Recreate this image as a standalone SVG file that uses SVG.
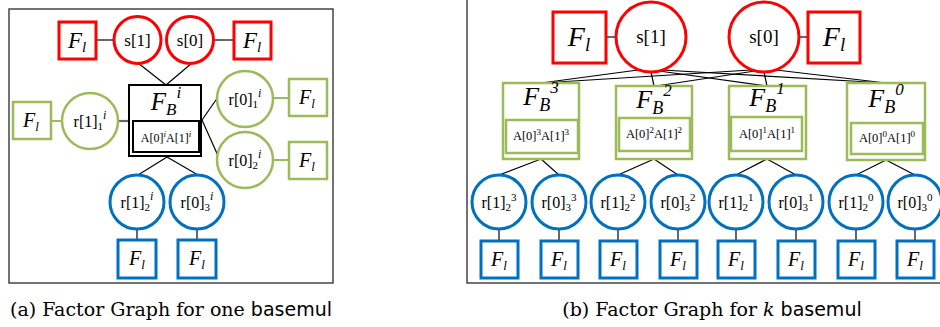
<svg xmlns="http://www.w3.org/2000/svg" width="940" height="327" viewBox="0 0 940 327" font-family="'Liberation Serif', 'Times New Roman', serif">
<style>
  .red{fill:#fff;stroke:#FF0000;stroke-width:3}
  .grn{fill:#fff;stroke:#9BBB59;stroke-width:2.5}
  .blu{fill:#fff;stroke:#0070C0;stroke-width:3}
  .fb{fill:#fff;stroke:#000;stroke-width:2}
  .edge{stroke:#000;stroke-width:1.2;fill:none}
  .gedge{stroke:#9BBB59;stroke-width:2;fill:none}
  .frame{stroke:#444;stroke-width:1.5;fill:none}
  text{font-family:'Liberation Serif', 'Times New Roman', serif;fill:#000;text-anchor:middle}
  .it{font-style:italic}
  text.cap{font-family:'DejaVu Serif', serif;font-size:19px}
  tspan.sans{font-family:'DejaVu Sans', sans-serif}
</style>

<!-- panel frames -->
<rect class="frame" x="9" y="9" width="324" height="274"/>
<path class="frame" d="M467,0 V283 H940"/>

<!-- ===== (a) one basemul ===== -->
<g id="edges-a">
  <line class="edge" x1="96" y1="40" x2="114" y2="40"/>
  <line class="edge" x1="213" y1="40" x2="234" y2="40"/>
  <line class="edge" x1="138" y1="63" x2="166" y2="85"/>
  <line class="edge" x1="192" y1="63" x2="166" y2="85"/>
  <line class="gedge" x1="51" y1="121" x2="62" y2="121"/>
  <line stroke="#666" stroke-width="2.2" x1="118" y1="121" x2="129" y2="121"/>
  <line class="edge" x1="202" y1="120" x2="218" y2="97"/>
  <line class="edge" x1="202" y1="120" x2="219" y2="158"/>
  <line class="gedge" x1="273" y1="98" x2="289" y2="98"/>
  <line class="gedge" x1="273" y1="160" x2="289" y2="160"/>
  <line class="edge" x1="167" y1="157" x2="138" y2="175"/>
  <line class="edge" x1="167" y1="157" x2="198" y2="175"/>
  <line class="edge" x1="137" y1="229" x2="137" y2="240"/>
  <line class="edge" x1="197" y1="229" x2="197" y2="240"/>
</g>

<g id="a-fl-s1"><rect class="red" x="59" y="22" width="37" height="37"/>
  <text class="it" x="77" y="48" font-size="23">F<tspan font-size="15" dy="4">l</tspan></text></g>
<g id="a-s1"><circle class="red" cx="137.5" cy="40" r="23.5"/>
  <text x="137.5" y="46" font-size="17">s[1]</text></g>
<g id="a-s0"><circle class="red" cx="190" cy="40" r="23.5"/>
  <text x="190" y="46" font-size="17">s[0]</text></g>
<g id="a-fl-s0"><rect class="red" x="234" y="22" width="37" height="37"/>
  <text class="it" x="252" y="48" font-size="23">F<tspan font-size="15" dy="4">l</tspan></text></g>

<g id="a-fb"><rect class="fb" x="129" y="85" width="72" height="71"/>
  <rect class="fb" x="133" y="121" width="66" height="31"/>
  <text class="it" x="166" y="110" font-size="25">F<tspan font-size="17" dy="5">B</tspan><tspan font-size="17" dy="-17">i</tspan></text>
  <text x="166" y="142" font-size="12">A[0]<tspan class="it" font-size="9" dy="-5">i</tspan><tspan dy="5">A[1]</tspan><tspan class="it" font-size="9" dy="-5">i</tspan></text></g>

<g id="a-fl-r11"><rect class="grn" x="13" y="102" width="38" height="37"/>
  <text class="it" x="31" y="127" font-size="20">F<tspan font-size="13" dy="4">l</tspan></text></g>
<g id="a-r11"><circle class="grn" cx="90" cy="121" r="28"/>
  <text x="90" y="127" font-size="16">r[1]<tspan font-size="11" dy="3">1</tspan><tspan class="it" font-size="12" dy="-11">i</tspan></text></g>
<g id="a-r01"><circle class="grn" cx="245" cy="99" r="28"/>
  <text x="245" y="105" font-size="16">r[0]<tspan font-size="11" dy="3">1</tspan><tspan class="it" font-size="12" dy="-11">i</tspan></text></g>
<g id="a-r02"><circle class="grn" cx="245" cy="160" r="28"/>
  <text x="245" y="166" font-size="16">r[0]<tspan font-size="11" dy="3">2</tspan><tspan class="it" font-size="12" dy="-11">i</tspan></text></g>
<g id="a-fl-r01"><rect class="grn" x="289" y="79" width="38" height="37"/>
  <text class="it" x="307" y="104" font-size="20">F<tspan font-size="13" dy="4">l</tspan></text></g>
<g id="a-fl-r02"><rect class="grn" x="289" y="142" width="38" height="37"/>
  <text class="it" x="307" y="167" font-size="20">F<tspan font-size="13" dy="4">l</tspan></text></g>

<g id="a-r12"><circle class="blu" cx="137" cy="202" r="27"/>
  <text x="137" y="208" font-size="16">r[1]<tspan font-size="11" dy="3">2</tspan><tspan class="it" font-size="12" dy="-11">i</tspan></text></g>
<g id="a-r03"><circle class="blu" cx="197" cy="202" r="27"/>
  <text x="197" y="208" font-size="16">r[0]<tspan font-size="11" dy="3">3</tspan><tspan class="it" font-size="12" dy="-11">i</tspan></text></g>
<g id="a-fl-r12"><rect class="blu" x="118" y="240" width="38" height="38"/>
  <text class="it" x="137" y="265" font-size="20">F<tspan font-size="13" dy="4">l</tspan></text></g>
<g id="a-fl-r03"><rect class="blu" x="178" y="240" width="38" height="38"/>
  <text class="it" x="197" y="265" font-size="20">F<tspan font-size="13" dy="4">l</tspan></text></g>

<!-- ===== (b) k basemul ===== -->
<g id="edges-b">
  <line class="edge" x1="606" y1="37" x2="616" y2="37"/>
  <line class="edge" x1="799" y1="37" x2="808" y2="37"/>
  <!-- s[1] to every F_B -->
  <line class="edge" x1="638" y1="70" x2="541" y2="83"/>
  <line class="edge" x1="651" y1="72" x2="654" y2="86"/>
  <line class="edge" x1="659" y1="71" x2="767" y2="86"/>
  <line class="edge" x1="662" y1="70" x2="886" y2="83"/>
  <!-- s[0] to every F_B -->
  <line class="edge" x1="751" y1="70" x2="541" y2="83"/>
  <line class="edge" x1="755" y1="71" x2="656" y2="86"/>
  <line class="edge" x1="764" y1="72" x2="767" y2="86"/>
  <line class="edge" x1="776" y1="70" x2="886" y2="83"/>
  <!-- F_B to r nodes -->
  <line class="edge" x1="541" y1="159" x2="499" y2="175"/>
  <line class="edge" x1="541" y1="159" x2="559" y2="175"/>
  <line class="edge" x1="654" y1="159" x2="618" y2="175"/>
  <line class="edge" x1="654" y1="159" x2="678" y2="175"/>
  <line class="edge" x1="767" y1="159" x2="736" y2="175"/>
  <line class="edge" x1="767" y1="159" x2="796" y2="175"/>
  <line class="edge" x1="886" y1="160" x2="856" y2="175"/>
  <line class="edge" x1="886" y1="160" x2="915" y2="175"/>
  <!-- r nodes to F_l -->
  <line class="edge" x1="499" y1="229" x2="499" y2="241"/>
  <line class="edge" x1="559" y1="229" x2="559" y2="241"/>
  <line class="edge" x1="618" y1="229" x2="618" y2="241"/>
  <line class="edge" x1="678" y1="229" x2="678" y2="241"/>
  <line class="edge" x1="736" y1="229" x2="736" y2="241"/>
  <line class="edge" x1="796" y1="229" x2="796" y2="241"/>
  <line class="edge" x1="856" y1="229" x2="856" y2="241"/>
  <line class="edge" x1="915" y1="229" x2="915" y2="241"/>
</g>

<g id="b-fl-s1"><rect class="red" x="553" y="12" width="53" height="51"/>
  <text class="it" x="579" y="46" font-size="28">F<tspan font-size="19" dy="5">l</tspan></text></g>
<g id="b-s1"><circle class="red" cx="651" cy="37" r="35"/>
  <text x="651" y="43" font-size="19">s[1]</text></g>
<g id="b-s0"><circle class="red" cx="764" cy="37" r="35"/>
  <text x="764" y="43" font-size="19">s[0]</text></g>
<g id="b-fl-s0"><rect class="red" x="808" y="12" width="52" height="51"/>
  <text class="it" x="834" y="46" font-size="28">F<tspan font-size="19" dy="5">l</tspan></text></g>

<g id="b-fb3"><rect class="grn" x="503" y="83" width="76" height="76"/>
  <rect class="grn" x="506" y="120" width="72" height="33"/>
  <text class="it" x="541" y="105" font-size="26">F<tspan font-size="18" dy="6">B</tspan><tspan font-size="17" dy="-18">3</tspan></text>
  <text x="541" y="140" font-size="12.5">A[0]<tspan font-size="9" dy="-5">3</tspan><tspan dy="5">A[1]</tspan><tspan font-size="9" dy="-5">3</tspan></text></g>
<g id="b-fb2"><rect class="grn" x="616" y="86" width="76" height="73"/>
  <rect class="grn" x="619" y="118" width="71" height="33"/>
  <text class="it" x="654" y="108" font-size="26">F<tspan font-size="18" dy="6">B</tspan><tspan font-size="17" dy="-18">2</tspan></text>
  <text x="654" y="138" font-size="12.5">A[0]<tspan font-size="9" dy="-5">2</tspan><tspan dy="5">A[1]</tspan><tspan font-size="9" dy="-5">2</tspan></text></g>
<g id="b-fb1"><rect class="grn" x="729" y="86" width="77" height="73"/>
  <rect class="grn" x="731" y="117" width="71" height="34"/>
  <text class="it" x="767" y="106" font-size="26">F<tspan font-size="18" dy="6">B</tspan><tspan font-size="17" dy="-18">1</tspan></text>
  <text x="767" y="138" font-size="12.5">A[0]<tspan font-size="9" dy="-5">1</tspan><tspan dy="5">A[1]</tspan><tspan font-size="9" dy="-5">1</tspan></text></g>
<g id="b-fb0"><rect class="grn" x="847" y="83" width="78" height="77"/>
  <rect class="grn" x="851" y="123" width="72" height="31"/>
  <text class="it" x="886" y="107" font-size="26">F<tspan font-size="18" dy="6">B</tspan><tspan font-size="17" dy="-18">0</tspan></text>
  <text x="887" y="142" font-size="12.5">A[0]<tspan font-size="9" dy="-5">0</tspan><tspan dy="5">A[1]</tspan><tspan font-size="9" dy="-5">0</tspan></text></g>

<g id="b-r12-3"><circle class="blu" cx="499" cy="202" r="27"/>
  <text x="499" y="208" font-size="16">r[1]<tspan font-size="11" dy="3">2</tspan><tspan font-size="11" dy="-10">3</tspan></text></g>
<g id="b-r03-3"><circle class="blu" cx="559" cy="202" r="27"/>
  <text x="559" y="208" font-size="16">r[0]<tspan font-size="11" dy="3">3</tspan><tspan font-size="11" dy="-10">3</tspan></text></g>
<g id="b-r12-2"><circle class="blu" cx="618" cy="202" r="27"/>
  <text x="618" y="208" font-size="16">r[1]<tspan font-size="11" dy="3">2</tspan><tspan font-size="11" dy="-10">2</tspan></text></g>
<g id="b-r03-2"><circle class="blu" cx="678" cy="202" r="27"/>
  <text x="678" y="208" font-size="16">r[0]<tspan font-size="11" dy="3">3</tspan><tspan font-size="11" dy="-10">2</tspan></text></g>
<g id="b-r12-1"><circle class="blu" cx="736" cy="202" r="27"/>
  <text x="736" y="208" font-size="16">r[1]<tspan font-size="11" dy="3">2</tspan><tspan font-size="11" dy="-10">1</tspan></text></g>
<g id="b-r03-1"><circle class="blu" cx="796" cy="202" r="27"/>
  <text x="796" y="208" font-size="16">r[0]<tspan font-size="11" dy="3">3</tspan><tspan font-size="11" dy="-10">1</tspan></text></g>
<g id="b-r12-0"><circle class="blu" cx="856" cy="202" r="27"/>
  <text x="856" y="208" font-size="16">r[1]<tspan font-size="11" dy="3">2</tspan><tspan font-size="11" dy="-10">0</tspan></text></g>
<g id="b-r03-0"><circle class="blu" cx="915" cy="202" r="27"/>
  <text x="915" y="208" font-size="16">r[0]<tspan font-size="11" dy="3">3</tspan><tspan font-size="11" dy="-10">0</tspan></text></g>

<g id="b-fl-3a"><rect class="blu" x="481" y="241" width="37" height="37"/>
  <text class="it" x="499" y="266" font-size="20">F<tspan font-size="13" dy="4">l</tspan></text></g>
<g id="b-fl-3b"><rect class="blu" x="541" y="241" width="37" height="37"/>
  <text class="it" x="559" y="266" font-size="20">F<tspan font-size="13" dy="4">l</tspan></text></g>
<g id="b-fl-2a"><rect class="blu" x="600" y="241" width="37" height="37"/>
  <text class="it" x="618" y="266" font-size="20">F<tspan font-size="13" dy="4">l</tspan></text></g>
<g id="b-fl-2b"><rect class="blu" x="660" y="241" width="37" height="37"/>
  <text class="it" x="678" y="266" font-size="20">F<tspan font-size="13" dy="4">l</tspan></text></g>
<g id="b-fl-1a"><rect class="blu" x="718" y="241" width="37" height="37"/>
  <text class="it" x="736" y="266" font-size="20">F<tspan font-size="13" dy="4">l</tspan></text></g>
<g id="b-fl-1b"><rect class="blu" x="778" y="241" width="37" height="37"/>
  <text class="it" x="796" y="266" font-size="20">F<tspan font-size="13" dy="4">l</tspan></text></g>
<g id="b-fl-0a"><rect class="blu" x="838" y="241" width="37" height="37"/>
  <text class="it" x="856" y="266" font-size="20">F<tspan font-size="13" dy="4">l</tspan></text></g>
<g id="b-fl-0b"><rect class="blu" x="897" y="241" width="37" height="37"/>
  <text class="it" x="915" y="266" font-size="20">F<tspan font-size="13" dy="4">l</tspan></text></g>

<!-- captions -->
<text class="cap" x="171" y="316">(a) Factor Graph for one <tspan class="sans">basemul</tspan></text>
<text class="cap" x="712" y="316">(b) Factor Graph for <tspan class="it">k</tspan> <tspan class="sans">basemul</tspan></text>
</svg>
